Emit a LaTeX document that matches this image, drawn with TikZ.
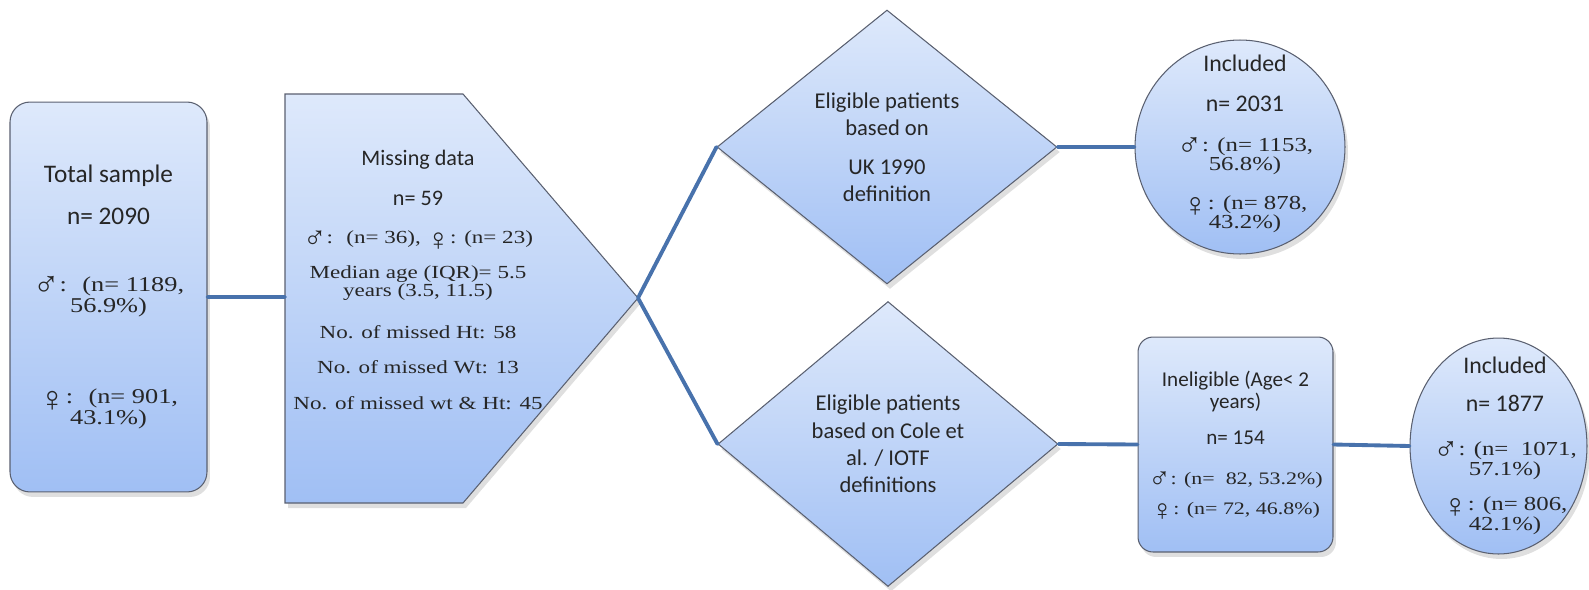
\documentclass[tikz,border=0pt]{standalone}
\usepackage{fontspec}
\setmainfont[FakeStretch=1.25]{Liberation Serif}
\setsansfont[Scale=1.2]{Carlito}
\newfontfamily\gsym[Scale=1.7]{Liberation Serif}
\newcommand{\msym}{\smash{\raisebox{-0.55ex}{\gsym ♂}}}
\newcommand{\fsym}{\smash{\raisebox{-0.75ex}{\gsym ♀}}}
\usetikzlibrary{positioning, shapes.geometric, shadows}

\definecolor{boxtop}{RGB}{222,233,251}
\definecolor{boxbot}{RGB}{160,191,244}
\definecolor{boxline}{RGB}{90,96,112}
\definecolor{linkblue}{RGB}{72,114,172}

\tikzset{
every node/.style={align=center, text=black!85},
box/.style={draw=boxline, line width=0.6pt, top color=boxtop, bottom color=boxbot,
  drop shadow={shadow xshift=0.6mm, shadow yshift=-1mm, opacity=0.25}}, % shaded shape with a soft shadow
roundbox/.style={box, rectangle, rounded corners=0.4cm},
decision/.style={box, diamond, minimum width=6.8cm, inner sep=0pt},
result/.style={box, ellipse, inner sep=0pt}, % text goes in a node of its own
link/.style={draw=linkblue, line width=2.2pt, line cap=round},
}

\begin{document}
\begin{tikzpicture}[x=0.02cm, y=-0.02cm]
\useasboundingbox (0,0) rectangle (1589,589);

% whole sample
\node[roundbox, minimum width=3.94cm, minimum height=7.8cm, font=\fontsize{12}{10.2}\selectfont] (total) at (108.5,297)
  {{\sffamily Total sample}\\[11.3pt]
   {\sffamily n= 2090}\\[27.8pt]
   \msym:~ (n= 1189,\\ 56.9\%)\\[40.3pt]
   \fsym:~ (n= 901,\\ 43.1\%)};

% missing data, pentagon pointing right
\draw[box] (285,94) -- (463,94) -- (638,298) -- (463,503) -- (285,503) -- cycle;
\coordinate (mdin) at (285,297);
\coordinate (mdtip) at (638,298);
\node[font=\fontsize{10.5}{10.2}\selectfont] (missing) at (418,280)
  {{\sffamily Missing data}\\[11.9pt]
   {\sffamily n= 59}\\[11.3pt]
   \msym:~ (n= 36), \fsym: (n= 23)\\[9.6pt]
   Median age (IQR)= 5.5\\
   years (3.5, 11.5)\\[13.6pt]
   No. of missed Ht: 58\\[9.6pt]
   No. of missed Wt: 13\\[10.8pt]
   No. of missed wt \& Ht: 45};

% the two definitions
\node[decision, minimum height=5.48cm, font=\sffamily\fontsize{10.7}{15.3}\selectfont] (uk) at (887,147)
  {Eligible patients\\ based on\\[6.8pt] UK 1990\\ definition};
\node[decision, minimum height=5.7cm, font=\sffamily\fontsize{10.7}{15.5}\selectfont] (cole) at (888,444)
  {Eligible patients\\ based on Cole et\\ al. / IOTF\\ definitions};

% outcomes
\node[result, minimum width=4.2cm, minimum height=4.28cm] (inc1) at (1240,147) {};
\node[font=\fontsize{11.3}{10.8}\selectfont] (inc1txt) at (1245,144)
  {{\sffamily Included}\\[11.9pt]
   {\sffamily n= 2031}\\[11.9pt]
   \msym: (n= 1153,\\ 56.8\%)\\[11.9pt]
   \fsym: (n= 878,\\ 43.2\%)};
\node[roundbox, rounded corners=0.3cm, minimum width=3.9cm, minimum height=4.3cm, font=\fontsize{10}{12.5}\selectfont] (inel) at (1235.5,444.5)
  {{\sffamily Ineligible (Age< 2}\\
   {\sffamily years)}\\[7.9pt]
   {\sffamily n= 154}\\[10.2pt]
   \msym: (n=~ 82, 53.2\%)\\[4.5pt]
   \fsym: (n= 72, 46.8\%)};
\node[result, minimum width=3.54cm, minimum height=4.32cm] (inc2) at (1498.5,446) {};
\node[font=\fontsize{11.3}{11.3}\selectfont] (inc2txt) at (1505,446)
  {{\sffamily Included}\\[10.2pt]
   {\sffamily n= 1877}\\[13.6pt]
   \msym: (n=~ 1071,\\ 57.1\%)\\[9pt]
   \fsym: (n= 806,\\ 42.1\%)};

\draw[link] (total.east) -- (mdin)
      (mdtip) -- (uk.west)
      (mdtip) -- (cole.west)
      (uk.east) -- (inc1.west)
      (cole.east) -- (inel.west)
      (inel.east) -- (inc2.west);
\end{tikzpicture}
\end{document}
